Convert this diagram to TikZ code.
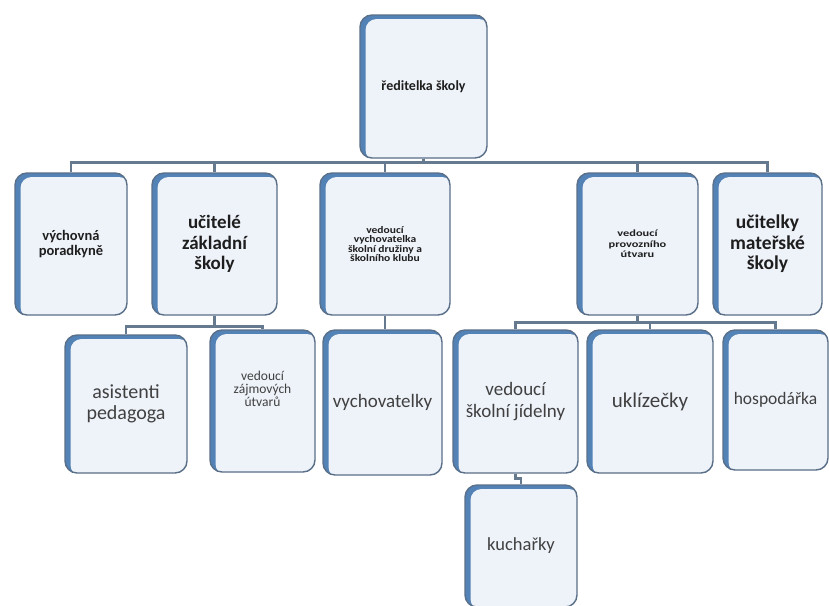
\documentclass[tikz,border=0pt]{standalone}
\usepackage{fontspec}
\setmainfont{Carlito}
\newfontfamily\widerA[FakeStretch=1.15]{Carlito}
\newfontfamily\widerB[FakeStretch=1.3]{Carlito}
\newcommand\fsz[2]{\fontsize{#1}{#2}\selectfont}
\definecolor{boxfill}{HTML}{EEF2F9}
\definecolor{boxborder}{HTML}{5A6F88}
\definecolor{bandcol}{HTML}{5282B6}
\definecolor{conncol}{HTML}{65798F}
\definecolor{darktext}{HTML}{1E1E1E}
\definecolor{graytext}{HTML}{404040}
\begin{document}
\begin{tikzpicture}[x=1pt,y=-1pt,
  orgbox/.style={rounded corners=12pt, fill=boxfill, draw=boxborder, line width=1.4pt,
    inner sep=2pt, align=center,
    path picture={
      \fill[bandcol, sharp corners] (path picture bounding box.south west) rectangle (path picture bounding box.north east);
      \fill[boxfill, rounded corners=11pt] ([xshift=5.5pt,yshift=-4pt]path picture bounding box.north west) rectangle ([xshift=3pt,yshift=-3pt]path picture bounding box.south east);
    }},
  sz/.style 2 args={minimum width=#1pt, minimum height=#2pt},
  boldtxt/.style={text=darktext},
  regtxt/.style={text=graytext},
  conn/.style={draw=conncol, line width=2.6pt}]
\useasboundingbox (0,0) rectangle (829,605);
\clip (0,0) rectangle (829,605);
\fill[white] (0,0) rectangle (829,605);

% level 1
\node[orgbox, sz={127}{143}, boldtxt, font=\bfseries\fsz{14}{16}] (root) at (423.5,86.5) {ředitelka školy};
% level 2
\node[orgbox, sz={112}{142}, boldtxt, font=\bfseries\fsz{14.5}{15.5}] (vp) at (71,244) {výchovná\\poradkyně};
\node[orgbox, sz={125}{142}, boldtxt, font=\bfseries\fsz{19}{20.5}] (uz) at (214.5,244) {učitelé\\základní\\školy};
\node[orgbox, sz={130}{142}, boldtxt, font=\widerA\bfseries\fsz{10}{9.5}] (vv) at (385,244) {vedoucí\\vychovatelka\\školní družiny a\\školního klubu};
\node[orgbox, sz={121}{142}, boldtxt, font=\widerB\bfseries\fsz{9.5}{10.5}] (pu) at (637.5,244) {vedoucí\\provozního\\útvaru};
\node[orgbox, sz={109}{142}, boldtxt, font=\bfseries\fsz{19.5}{20.5}] (ms) at (767.5,244) {učitelky\\mateřské\\školy};
% level 3
\node[orgbox, sz={122}{138}, regtxt, font=\fsz{20}{21.5}] (as) at (126,404) {asistenti\\pedagoga};
\node[orgbox, sz={105}{142}, regtxt, font=\fsz{13.5}{13}] (zu) at (262.5,401) {vedoucí\\zájmových\\útvarů\\[11pt]\mbox{}};
\node[orgbox, sz={119}{145}, regtxt, font=\fsz{19}{21}] (vy) at (382.5,402.5) {vychovatelky};
\node[orgbox, sz={125}{143}, regtxt, font=\fsz{19}{22}] (jd) at (515.5,401.5) {vedoucí\\školní jídelny};
\node[orgbox, sz={126}{143}, regtxt, font=\fsz{21}{22}] (uk) at (650,401.5) {uklízečky};
\node[orgbox, sz={105}{140}, regtxt, font=\fsz{17.5}{20}] (ho) at (775.5,400) {hospodářka};
% level 4
\node[orgbox, sz={112}{122}, regtxt, font=\fsz{18.5}{21}] (ku) at (521,546) {kuchařky};

% connectors
\foreach \c in {vp,uz,vv,pu,ms}
  \draw[conn] (root.south) -- ++(0,4) -| (\c.north);
\foreach \c in {as,zu}
  \draw[conn] (uz.south) -- ++(0,11) -| (\c.north);
\draw[conn] (vv.south) -- (vv.south |- vy.north);
\foreach \c in {jd,uk,ho}
  \draw[conn] (pu.south) -- ++(0,7) -| (\c.north);
\draw[conn] (jd.south) -- ++(0,5) -| (ku.north);
\end{tikzpicture}
\end{document}
